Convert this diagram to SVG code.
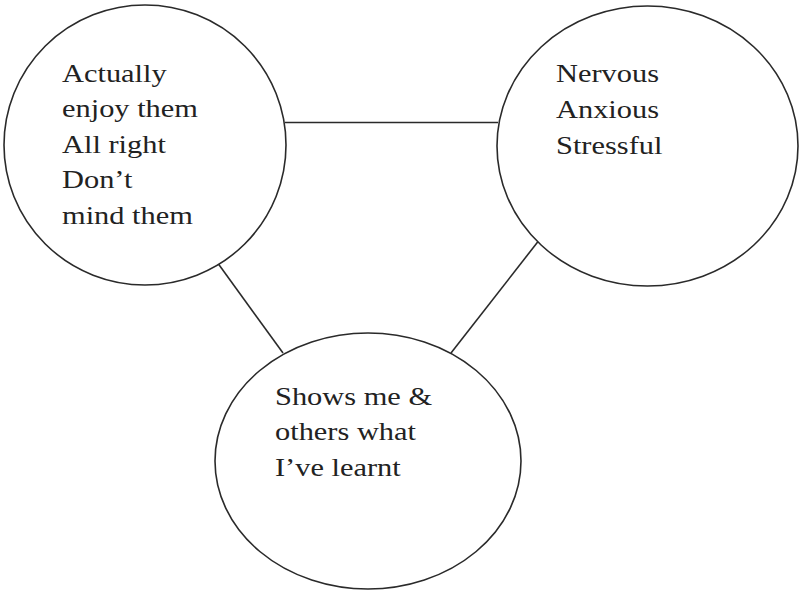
<svg xmlns="http://www.w3.org/2000/svg" width="799" height="591" viewBox="0 0 799 591">
<style>
.n{fill:#fff;stroke:#2a2a2a;stroke-width:1.6}
.c{stroke:#2a2a2a;stroke-width:1.6;fill:none}
.t{font-family:"Liberation Serif","Times New Roman",serif;font-size:26px;fill:#222}
</style>
<rect width="799" height="591" fill="#fff"/>
<g id="connectors">
<line class="c" x1="285" y1="122.5" x2="498" y2="122.5"/>
<line class="c" x1="217" y1="262" x2="283" y2="353"/>
<line class="c" x1="540" y1="239" x2="451" y2="353"/>
</g>
<g id="node-enjoy">
<ellipse class="n" cx="145" cy="145" rx="141" ry="140"/>
<text class="t" transform="translate(62,0) scale(1.17,1)">
<tspan x="0" y="82">Actually</tspan>
<tspan x="0" y="117.5">enjoy them</tspan>
<tspan x="0" y="153">All right</tspan>
<tspan x="0" y="188.5">Don’t</tspan>
<tspan x="0" y="224">mind them</tspan>
</text>
</g>
<g id="node-nervous">
<ellipse class="n" cx="647.5" cy="146" rx="150.5" ry="140"/>
<text class="t" transform="translate(556,0) scale(1.17,1)">
<tspan x="0" y="82.5">Nervous</tspan>
<tspan x="0" y="118">Anxious</tspan>
<tspan x="0" y="154">Stressful</tspan>
</text>
</g>
<g id="node-shows">
<ellipse class="n" cx="368" cy="461" rx="153" ry="128"/>
<text class="t" transform="translate(275,0) scale(1.17,1)">
<tspan x="0" y="405">Shows me &amp;</tspan>
<tspan x="0" y="440.5">others what</tspan>
<tspan x="0" y="476.5">I’ve learnt</tspan>
</text>
</g>
</svg>
